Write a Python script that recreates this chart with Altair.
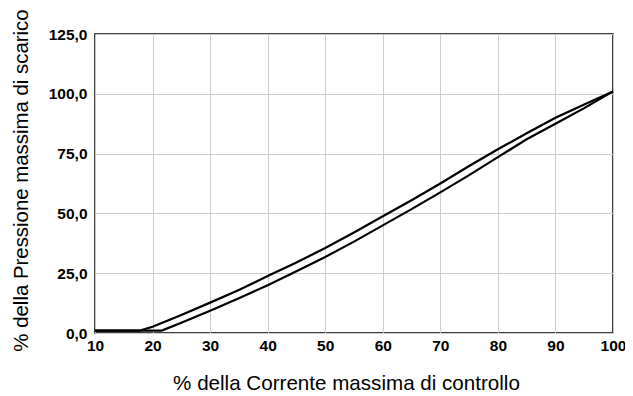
import altair as alt
import pandas as pd

upper_x = [10, 17.8, 20, 25, 30, 35, 40, 45, 50, 55, 60, 65, 70, 75, 80, 85, 90, 95, 100]
upper_y = [1, 1, 2.6, 7.5, 12.7, 18, 23.8, 29.5, 35.5, 42, 48.8, 55.5, 62.5, 69.8, 76.8, 83.5, 90, 95.5, 101]
lower_x = [10, 21.6, 25, 30, 35, 40, 45, 50, 55, 60, 65, 70, 75, 80, 85, 90, 95, 100]
lower_y = [1, 1, 4.3, 9.3, 14.5, 20, 25.8, 31.8, 38.2, 45, 51.8, 58.8, 66, 73.5, 81, 87.5, 94, 101]

x_ticks = [10, 20, 30, 40, 50, 60, 70, 80, 90, 100]
y_ticks = [0, 25, 50, 75, 100, 125]

rows = [{"x": a, "y": b, "series": "upper", "o": i} for i, (a, b) in enumerate(zip(upper_x, upper_y))]
rows += [{"x": a, "y": b, "series": "lower", "o": i} for i, (a, b) in enumerate(zip(lower_x, lower_y))]
df = pd.DataFrame(rows)

FONT = "Liberation Sans"

chart = alt.Chart(df).mark_line(color="black", strokeWidth=2.2).encode(
    x=alt.X("x:Q", scale=alt.Scale(domain=[10, 100], nice=False),
            axis=alt.Axis(values=x_ticks, title="% della Corrente massima di controllo",
                          labelFontWeight="bold", labelFontSize=15.5, labelPadding=5,
                          titleFontSize=20.6, titleFontWeight="normal",
                          titleX=251, titleY=56, titleBaseline="alphabetic",
                          labelFlush=False)),
    y=alt.Y("y:Q", scale=alt.Scale(domain=[0, 125], nice=False),
            axis=alt.Axis(values=y_ticks, title="% della Pressione massima di scarico",
                          labelExpr="replace(format(datum.value, '.1f'), '.', ',')",
                          labelFontWeight="bold", labelFontSize=15.5, labelPadding=8,
                          titleFontSize=20.4, titleFontWeight="normal", titleX=-74,
                          titleY=146, titleBaseline="middle")),
    detail="series:N",
    order="o:Q",
).properties(
    width=518, height=299,
    autosize=alt.AutoSizeParams(type="none"),
    padding={"left": 87, "top": 26, "right": 12, "bottom": 60},
).configure_axis(
    labelFont=FONT, titleFont=FONT, labelColor="black", titleColor="black",
    grid=True, gridColor="#cccccc", gridWidth=1, domain=False, ticks=False,
).configure_view(stroke="black", strokeWidth=1.5)

chart.save("out.html", embed_options={"renderer": "svg", "actions": False})
